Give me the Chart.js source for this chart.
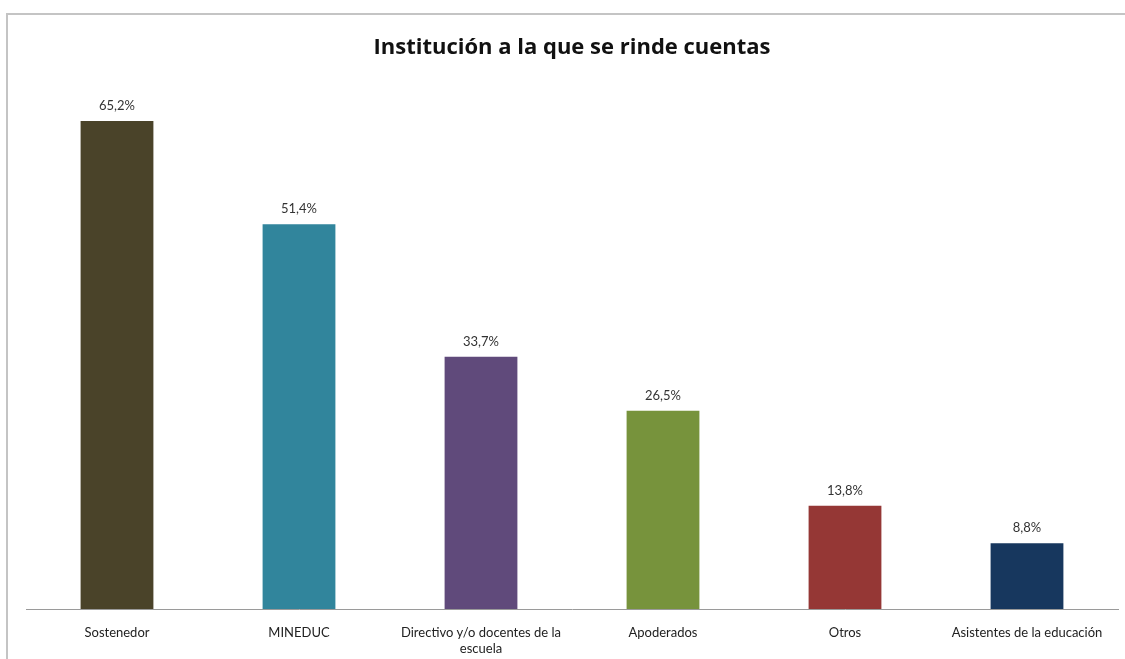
<!DOCTYPE html>
<html>
<head>
<meta charset="utf-8">
<script src="https://cdn.jsdelivr.net/npm/chart.js@4.4.1/dist/chart.umd.min.js"></script>
<style>
  html, body { margin: 0; padding: 0; background: #fff; }
  #wrap { position: relative; width: 1125px; height: 659px; overflow: hidden; }
  #frame { position: absolute; left: 6px; top: 13px; width: 1130px; height: 660px; border-top: 2px solid #c4c4c4; border-left: 2px solid #c4c4c4; }
  #chart { position: absolute; left: 0; top: 0; }
</style>
</head>
<body>
<div id="wrap">
  <div id="frame"></div>
  <canvas id="chart" width="1125" height="659"></canvas>
</div>
<script>
// datos del gráfico
const categorias = ['Sostenedor', 'MINEDUC', ['Directivo y/o docentes de la', 'escuela'], 'Apoderados', 'Otros', 'Asistentes de la educación'];
const porcentajes = [65.2, 51.4, 33.7, 26.5, 13.8, 8.8];
const colores = ['#4a4329', '#31859c', '#604a7b', '#77933c', '#953735', '#17375e'];

// etiquetas encima de las barras
const etiquetasBarras = {
  id: 'etiquetasBarras',
  afterDatasetsDraw(chart) {
    const ctx = chart.ctx;
    const meta = chart.getDatasetMeta(0);
    ctx.save();
    ctx.font = '13px Lato';
    ctx.fillStyle = '#333';
    ctx.textAlign = 'center';
    ctx.textBaseline = 'middle';
    meta.data.forEach((bar, i) => {
      ctx.fillText(porcentajes[i].toFixed(1).replace('.', ',') + '%', bar.x, bar.y - 15);
    });
    ctx.restore();
  }
};

const ctx = document.getElementById('chart').getContext('2d');
new Chart(ctx, {
  type: 'bar',
  data: {
    labels: categorias,
    datasets: [{
      data: porcentajes,
      backgroundColor: colores,
      borderWidth: 0,
      categoryPercentage: 1,
      barPercentage: 0.4
    }]
  },
  options: {
    responsive: false,
    animation: false,
    layout: { padding: { left: 26, right: 7, top: 0, bottom: 0 } },
    plugins: {
      legend: { display: false },
      tooltip: { enabled: false },
      title: {
        display: true,
        text: 'Institución a la que se rinde cuentas',
        color: '#111',
        font: { family: 'Open Sans', size: 22, weight: 'bold', lineHeight: 1.2 },
        padding: { top: 35, bottom: 23.6 }
      }
    },
    scales: {
      x: {
        grid: { display: false, drawTicks: false },
        border: { display: true, color: '#9a9a9a', width: 1 },
        ticks: { color: '#222', font: { family: 'Lato', size: 13 }, padding: 16, maxRotation: 0, autoSkip: false },
        afterFit(scale) { scale.height = 50; }
      },
      y: {
        display: false,
        min: 0,
        max: 70
      }
    }
  },
  plugins: [etiquetasBarras]
});
</script>
</body>
</html>
